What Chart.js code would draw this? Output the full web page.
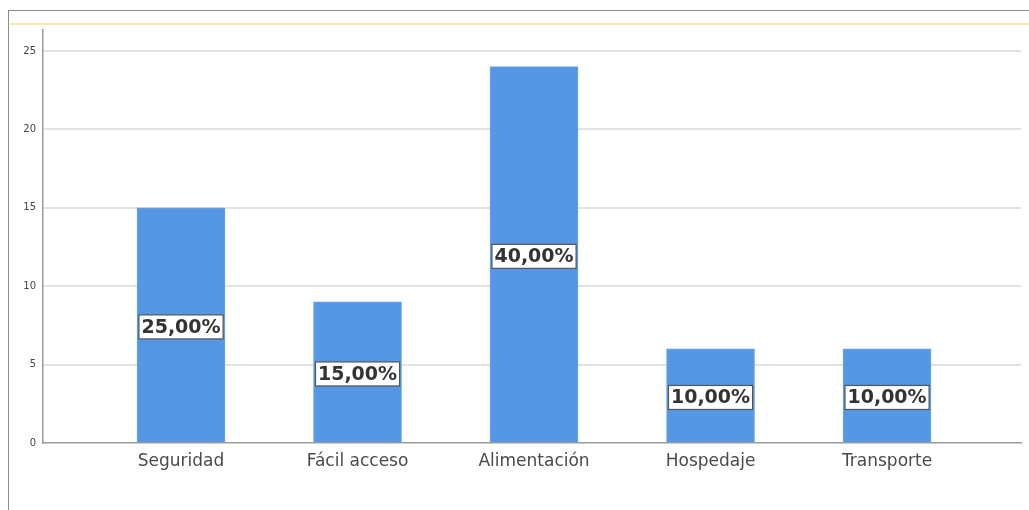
<!DOCTYPE html>
<html>
<head>
<meta charset="utf-8">
<script src="https://cdn.jsdelivr.net/npm/chart.js@4/dist/chart.umd.min.js"></script>
<style>
    html, body { margin: 0; padding: 0; background: #fff; }
    #wrap { position: relative; width: 1029px; height: 510px; overflow: hidden; }
    #frame { position: absolute; left: 8px; top: 10px; right: -5px; bottom: -5px;
             border-left: 1.5px solid #8a8a8a; border-top: 1.5px solid #8a8a8a; }
    #band { position: absolute; left: 10px; right: 0; top: 23px; height: 2px; background: #fbe7a6; }
    canvas { position: absolute; left: 0; top: 0; }
</style>
</head>
<body>
<div id="wrap">
    <div id="frame"></div>
    <div id="band"></div>
    <canvas id="barChart" width="1029" height="510"></canvas>
</div>
<script>
// Chart data
const categories = ['Seguridad', 'Fácil acceso', 'Alimentación', 'Hospedaje', 'Transporte'];
const counts = [15, 9, 24, 6, 6];
const percentLabels = ['25,00%', '15,00%', '40,00%', '10,00%', '10,00%'];
const yTicks = [0, 5, 10, 15, 20, 25];

// Draw the boxed percentage in the middle of each bar
const boxLabels = {
    id: 'boxLabels',
    afterDatasetsDraw(chart) {
        const ctx = chart.ctx;
        const meta = chart.getDatasetMeta(0);
        ctx.save();
        ctx.font = 'bold 19px "DejaVu Sans"';
        ctx.textAlign = 'center';
        ctx.textBaseline = 'middle';
        meta.data.forEach((bar, i) => {
            const txt = percentLabels[i];
            const cy = (bar.y + bar.base) / 2 + 2;
            const w = ctx.measureText(txt).width + 5;
            const h = 24;
            ctx.fillStyle = '#ffffff';
            ctx.fillRect(bar.x - w / 2, cy - h / 2, w, h);
            ctx.strokeStyle = '#555555';
            ctx.lineWidth = 1.2;
            ctx.strokeRect(bar.x - w / 2, cy - h / 2, w, h);
            ctx.fillStyle = '#333333';
            ctx.fillText(txt, bar.x, cy + 1);
        });
        ctx.restore();
    }
};

new Chart(document.getElementById('barChart'), {
    type: 'bar',
    data: {
        datasets: [{
            data: counts.map((v, i) => ({ x: i, y: v })),
            backgroundColor: '#5596e5',
            borderColor: '#6aa5ec',
            borderWidth: 1,
            barThickness: 88
        }]
    },
    options: {
        responsive: false,
        animation: false,
        layout: { padding: { left: 0, top: 30, right: 8, bottom: 0 } },
        plugins: {
            legend: { display: false },
            tooltip: { enabled: false }
        },
        scales: {
            x: {
                type: 'linear',
                min: -0.782,
                max: 4.759,
                offset: false,
                afterBuildTicks: (scale) => {
                    scale.ticks = categories.map((c, i) => ({ value: i }));
                },
                afterFit: (scale) => { scale.height = 67; },
                ticks: {
                    autoSkip: false,
                    maxRotation: 0,
                    padding: 8,
                    color: '#4a4a4a',
                    font: { family: 'DejaVu Sans', size: 17 },
                    callback: (v) => categories[v] ?? ''
                },
                grid: { display: false, drawTicks: false },
                border: { display: true, color: '#9a9a9a', width: 1.5 }
            },
            y: {
                min: 0,
                max: 26.34,
                afterBuildTicks: (scale) => {
                    scale.ticks = yTicks.map(v => ({ value: v }));
                },
                afterFit: (scale) => { scale.width = 43; },
                ticks: {
                    padding: 7,
                    color: '#444',
                    font: { family: 'DejaVu Sans', size: 10 }
                },
                grid: {
                    color: (c) => c.tick && c.tick.value === 0 ? 'rgba(0,0,0,0)' : '#e2e2e2',
                    lineWidth: 2,
                    drawTicks: false
                },
                border: { display: true, color: '#9a9a9a', width: 1.5 }
            }
        }
    },
    plugins: [boxLabels]
});
</script>
</body>
</html>
